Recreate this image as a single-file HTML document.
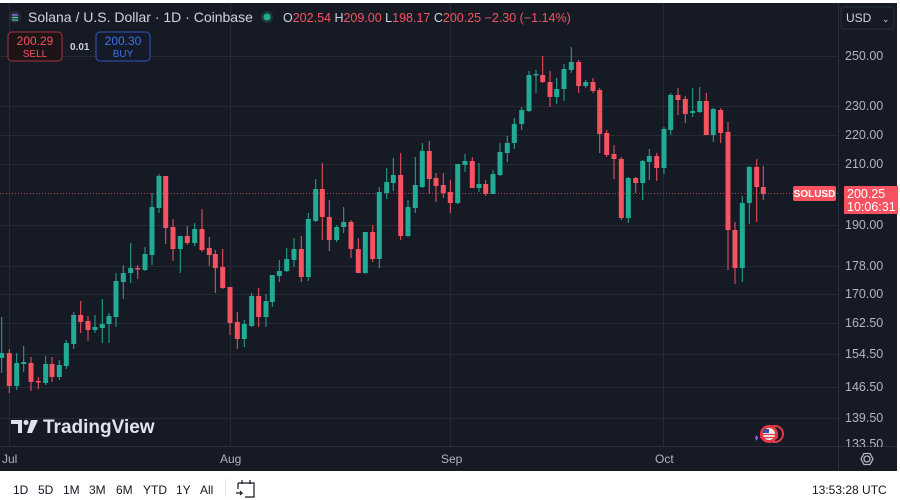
<!DOCTYPE html>
<html><head><meta charset="utf-8"><style>
html,body{margin:0;padding:0;background:#fff;}
body{width:900px;height:500px;overflow:hidden;position:relative;font-family:"Liberation Sans",sans-serif;}
svg{position:absolute;left:0;top:0;}
</style></head><body>
<svg width="900" height="500" viewBox="0 0 900 500" font-family="Liberation Sans, sans-serif">
<rect x="0" y="0" width="900" height="500" fill="#ffffff"/>
<rect x="0" y="3" width="897" height="468" fill="#161a25"/>
<g stroke="#262a35" stroke-width="1">
<line x1="0" y1="56.5" x2="838" y2="56.5"/><line x1="0" y1="106.5" x2="838" y2="106.5"/><line x1="0" y1="135.5" x2="838" y2="135.5"/><line x1="0" y1="164.5" x2="838" y2="164.5"/><line x1="0" y1="225.5" x2="838" y2="225.5"/><line x1="0" y1="266.5" x2="838" y2="266.5"/><line x1="0" y1="294.5" x2="838" y2="294.5"/><line x1="0" y1="323.5" x2="838" y2="323.5"/><line x1="0" y1="354.5" x2="838" y2="354.5"/><line x1="0" y1="387.5" x2="838" y2="387.5"/><line x1="0" y1="418.5" x2="838" y2="418.5"/>
<line x1="9.5" y1="3" x2="9.5" y2="446"/><line x1="230.5" y1="3" x2="230.5" y2="446"/><line x1="450.5" y1="3" x2="450.5" y2="446"/><line x1="663.5" y1="3" x2="663.5" y2="446"/>
</g>
<line x1="838.5" y1="3" x2="838.5" y2="471" stroke="#2a2e39"/>
<line x1="0" y1="446.5" x2="897" y2="446.5" stroke="#2a2e39"/>
<line x1="0" y1="193.5" x2="838" y2="193.5" stroke="#f7525f" stroke-dasharray="1,2" opacity="0.7"/>
<g fill="#22ab94">
<path stroke="#22ab94" stroke-width="1" fill="none" d="M1.7 317V373M16.7 353V390M23.7 346V372M45.7 356V385M59.3 360V380M66.3 340V369M73.7 312V349M95 315V333M102.3 299V343M109 313V343M116 273V327M123.3 265V299M130.7 243V283M145 247V271M152 193V265M159 174V213M180.3 236V273M194.7 223V246M244.3 320V347M251.7 293V327M266 294V327M272.3 275V307M279.3 260V282M286.7 248V272M294 238V267M308.3 213V281M315.7 179V222M336.7 225V242M343.7 207V233M365.3 232V274M379.3 187V268M386.7 168V199M393.3 158V191M408 200V237M415.3 157V213M422.3 143V188M457.7 164V204M465 154V172M479 163V192M493 170V194M500 143V176M507.3 136V162M514.3 118V149M521.7 107V130M529 71V112M536 70V93M556.7 78V104M564 64V101M571.3 47V73M585.7 80V88M628.3 177V223M642.7 160V200M649.3 149V180M664 127V174M670.7 93V135M692.7 88V117M699.7 87V113M713.3 108V142M742.3 196V282M749.3 166V224"/>
<path d="M-0.8 353h5V358h-5ZM14.2 363h5V386h-5ZM21.2 362h5V364h-5ZM43.2 364h5V383h-5ZM56.8 365h5V377h-5ZM63.8 343h5V366h-5ZM71.2 315h5V344h-5ZM92.5 327h5V330h-5ZM99.8 324h5V328h-5ZM106.5 316h5V324h-5ZM113.5 281h5V317h-5ZM120.8 273h5V282h-5ZM128.2 268h5V273h-5ZM142.5 254h5V270h-5ZM149.5 207h5V255h-5ZM156.5 176h5V208h-5ZM177.8 236h5V249h-5ZM192.2 229h5V243h-5ZM241.8 324h5V339h-5ZM249.2 296h5V326h-5ZM263.5 301h5V317h-5ZM269.8 275h5V302h-5ZM276.8 271h5V276h-5ZM284.2 259h5V271h-5ZM291.5 249h5V260h-5ZM305.8 219h5V277h-5ZM313.2 189h5V221h-5ZM334.2 227h5V240h-5ZM341.2 222h5V227h-5ZM362.8 232h5V273h-5ZM376.8 192h5V259h-5ZM384.2 182h5V193h-5ZM390.8 175h5V183h-5ZM405.5 207h5V236h-5ZM412.8 185h5V208h-5ZM419.8 151h5V187h-5ZM455.2 164h5V203h-5ZM462.5 161h5V165h-5ZM476.5 184h5V188h-5ZM490.5 174h5V194h-5ZM497.5 152h5V175h-5ZM504.8 143h5V153h-5ZM511.8 124h5V143h-5ZM519.2 110h5V124h-5ZM526.5 75h5V111h-5ZM533.5 74h5V75.5h-5ZM554.2 89h5V97h-5ZM561.5 69h5V89h-5ZM568.8 62h5V70h-5ZM583.2 82h5V86h-5ZM625.8 178h5V218h-5ZM640.2 161h5V183h-5ZM646.8 156h5V162h-5ZM661.5 129h5V168h-5ZM668.2 95h5V130h-5ZM690.2 111h5V113h-5ZM697.2 101h5V112h-5ZM710.8 109h5V135h-5ZM739.8 203h5V268h-5ZM746.8 167h5V203h-5Z"/>
</g>
<g fill="#f7525f">
<path stroke="#f7525f" stroke-width="1" fill="none" d="M9.3 349V393M31 357V391M38.3 377V389M52 357V382M80.7 301V333M88 316V341M137.7 265V279M165.7 176V244M173 219V261M187.3 226V245M202 209V252M209.3 237V266M215.3 250V293M222.7 249V289M230 287V335M237.3 312V349M258.7 288V327M301.3 236V282M322.3 163V240M329.3 200V251M351 220V258M358.3 238V273M372.7 225V262M400.7 153V240M429.3 141V194M436 173V202M443.3 173V198M450.3 180V213M472.3 157V188M485.7 180V196M542.7 56V83M550 71V107M578.7 60V93M593 78V93M599.7 88V153M606.7 130V157M614 145V179M621.3 157V220M635.7 177V193M656.7 153V181M678 88V115M685.3 96V123M706.3 93V135M720.7 108V143M728 122V270M735 222V284M756.7 159V222M763.3 166V200"/>
<path d="M6.8 353h5V386h-5ZM28.5 363h5V382h-5ZM35.8 381h5V382.5h-5ZM49.5 364h5V377h-5ZM78.2 315h5V322h-5ZM85.5 321h5V330h-5ZM135.2 268h5V269.5h-5ZM163.2 176h5V228h-5ZM170.5 227h5V249h-5ZM184.8 236h5V243h-5ZM199.5 229h5V250h-5ZM206.8 248h5V255h-5ZM212.8 254h5V268h-5ZM220.2 267h5V288h-5ZM227.5 287h5V323h-5ZM234.8 322h5V339h-5ZM256.2 296h5V317h-5ZM298.8 249h5V277h-5ZM319.8 189h5V217h-5ZM326.8 217h5V240h-5ZM348.5 222h5V249h-5ZM355.8 249h5V273h-5ZM370.2 232h5V259h-5ZM398.2 175h5V236h-5ZM426.8 151h5V179h-5ZM433.5 178h5V186h-5ZM440.8 185h5V193h-5ZM447.8 192h5V203h-5ZM469.8 161h5V188h-5ZM483.2 184h5V194h-5ZM540.2 75h5V82h-5ZM547.5 82h5V97h-5ZM576.2 62h5V86h-5ZM590.5 82h5V91h-5ZM597.2 90h5V134h-5ZM604.2 133h5V155h-5ZM611.5 154h5V159h-5ZM618.8 159h5V218h-5ZM633.2 178h5V183h-5ZM654.2 156h5V168h-5ZM675.5 95h5V100h-5ZM682.8 99h5V114h-5ZM703.8 101h5V135h-5ZM718.2 110h5V133h-5ZM725.5 132h5V230h-5ZM732.5 230h5V268h-5ZM754.2 167h5V187h-5ZM760.8 187h5V194h-5Z"/>
</g>
<g fill="#b2b5be" font-size="12.5">
<text x="845" y="60">250.00</text><text x="845" y="110">230.00</text><text x="845" y="139">220.00</text><text x="845" y="168">210.00</text><text x="845" y="229">190.00</text><text x="845" y="270">178.00</text><text x="845" y="298">170.00</text><text x="845" y="327">162.50</text><text x="845" y="358">154.50</text><text x="845" y="391">146.50</text><text x="845" y="422">139.50</text><text x="845" y="448">133.50</text>
</g>
<rect x="839" y="447" width="58" height="24" fill="#161a25"/>
<line x1="838.5" y1="446" x2="838.5" y2="471" stroke="#2a2e39"/>
<rect x="793" y="186" width="43" height="15" rx="2" fill="#f7525f"/>
<text x="814.5" y="197" fill="#fff" font-size="10" font-weight="bold" text-anchor="middle">SOLUSD</text>
<rect x="844" y="186" width="54" height="28" fill="#f7525f"/>
<text x="847" y="198" fill="#fff" font-size="12.5">200.25</text>
<text x="847" y="211" fill="#fff" font-size="12.5">10:06:31</text>
<rect x="841" y="7" width="53" height="22" rx="3" fill="#161a25" stroke="#2a2e39"/>
<text x="846" y="22" fill="#d1d4dc" font-size="12">USD</text>
<text x="882" y="22" fill="#d1d4dc" font-size="9">⌄</text>
<circle cx="15" cy="17" r="6" fill="#2a2e39"/>
<g stroke="#9b7cf5" stroke-width="1.2"><line x1="12" y1="15" x2="18" y2="15"/><line x1="12" y1="17.5" x2="18" y2="17.5" stroke="#5ac8d8"/><line x1="12" y1="20" x2="18" y2="20" stroke="#3fd0a0"/></g>
<text x="28" y="22" fill="#d1d4dc" font-size="14">Solana / U.S. Dollar · 1D · Coinbase</text>
<circle cx="267" cy="17" r="6" fill="#1a3a34"/><circle cx="267" cy="17" r="3.5" fill="#22ab94"/>
<text x="283" y="22" font-size="12.5" fill="#d1d4dc">O<tspan fill="#f7525f">202.54</tspan> H<tspan fill="#f7525f">209.00</tspan> L<tspan fill="#f7525f">198.17</tspan> C<tspan fill="#f7525f">200.25 −2.30 (−1.14%)</tspan></text>
<rect x="8" y="32" width="54" height="29" rx="4" fill="#1c1416" stroke="#a8323c"/>
<text x="35" y="45" text-anchor="middle" fill="#f7525f" font-size="12">200.29</text>
<text x="35" y="57" text-anchor="middle" fill="#f7525f" font-size="10">SELL</text>
<text x="70" y="50" fill="#d1d4dc" font-size="10" font-weight="bold">0.01</text>
<rect x="96" y="32" width="54" height="29" rx="4" fill="#141a28" stroke="#2f57b8"/>
<text x="123" y="45" text-anchor="middle" fill="#3d72f0" font-size="12">200.30</text>
<text x="123" y="57" text-anchor="middle" fill="#3d72f0" font-size="10">BUY</text>
<g fill="#e0e3eb">
<path d="M11 420h11v13h-4v-9h-7z"/><circle cx="26" cy="422.5" r="2.5"/><path d="M31 420h7l-6 13h-5z"/>
</g>
<text x="43" y="433" fill="#e0e3eb" font-size="19" font-weight="bold">TradingView</text>
<circle cx="775" cy="434" r="8" fill="none" stroke="#e03a48" stroke-width="2"/>
<circle cx="769" cy="434" r="8" fill="#e03a48" stroke="#e03a48" stroke-width="2"/>
<circle cx="769" cy="434" r="6" fill="#f0f0f0"/>
<rect x="763" y="429" width="6" height="4" fill="#3552a8"/>
<path d="M760 434.5h18M760 437.5h18" stroke="#e03a48" stroke-width="1.2"/>
<path d="M755 438l1.5-3 1.5 3-1.5 3z" fill="#9b5cf0"/>
<g fill="#b2b5be" font-size="12">
<text x="2" y="463">Jul</text><text x="220" y="463">Aug</text><text x="441" y="463">Sep</text><text x="655" y="463">Oct</text>
</g>
<circle cx="867" cy="459" r="3" fill="none" stroke="#b2b5be" stroke-width="1.3"/>
<path d="M861 459l3-5.5h6l3 5.5-3 5.5h-6z" fill="none" stroke="#b2b5be" stroke-width="1.3"/>
<rect x="0" y="471" width="900" height="29" fill="#ffffff"/>
<g fill="#131722" font-size="12">
<text x="13" y="494">1D</text><text x="38" y="494">5D</text><text x="63" y="494">1M</text><text x="89" y="494">3M</text><text x="116" y="494">6M</text><text x="143" y="494">YTD</text><text x="176" y="494">1Y</text><text x="200" y="494">All</text>
<text x="812" y="494">13:53:28 UTC</text>
</g>
<line x1="225.5" y1="479" x2="225.5" y2="497" stroke="#e0e3eb"/>
<g fill="none" stroke="#131722" stroke-width="1.2">
<path d="M238 483h16v14h-9M238 483v6"/><path d="M242 480v4M250 480v4"/><path d="M236 493h6l-2-2M242 493l-2 2"/>
</g>
</svg>
</body></html>
